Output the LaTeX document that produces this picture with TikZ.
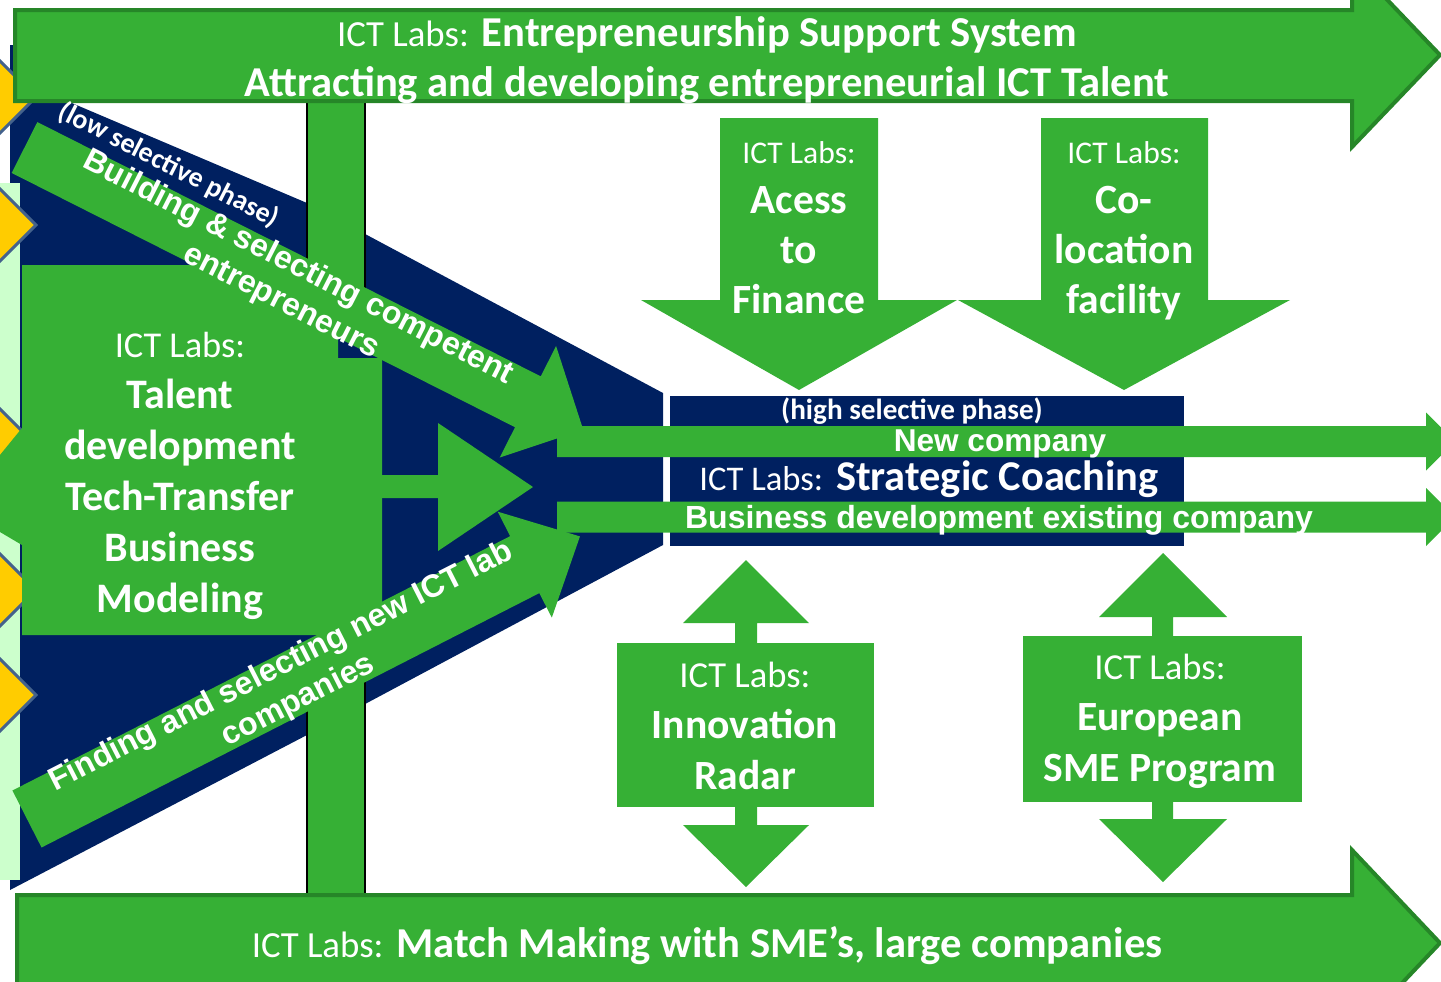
\documentclass[tikz,border=0pt]{standalone}
\usepackage{fontspec}
\setmainfont{Carlito}
\newfontfamily\arialfont{Liberation Sans}
\usepackage{tikz}
\definecolor{ictgreen}{RGB}{54,176,53}
\definecolor{ictdark}{RGB}{38,134,40}
\definecolor{ictnavy}{RGB}{0,32,96}
\definecolor{ictpale}{RGB}{204,255,204}
\definecolor{ictyellow}{RGB}{255,204,0}
\definecolor{ictslate}{RGB}{68,98,140}
\def\ictlabs#1{{\mdseries\fontsize{#1}{#1}\selectfont ICT Labs:}}
\def\hdfont{\bfseries\fontsize{21.3}{25}\selectfont}
\def\arbold#1{\arialfont\bfseries\fontsize{#1}{19}\selectfont}
\tikzset{
	fatarrow/.style={fill=ictgreen, draw=ictdark, line width=2pt},
	wtext/.style={text=white, align=center, inner sep=0pt},
}

\begin{document}
\begin{tikzpicture}[x=0.5pt, y=-0.5pt]
			%%%%% START %%%%%
			\useasboundingbox (0,0) rectangle (1441,981);
			\clip (0,0) rectangle (1441,981);
			
			\fill[ictnavy] (10,45) -- (15,45) -- (15,98) -- (60,98) -- (307,203) -- (663,393) -- (663,545) -- (307,735) -- (10,890) -- cycle;
			
			\fill[ictpale] (0,183) rectangle (20,880);
			\foreach \y in {97,225,445,590,695}
				\draw[fill=ictyellow, draw=ictslate, line width=1.5pt] (-6,\y-42) -- (36,\y) -- (-6,\y+42) -- (-48,\y) -- cycle;
			
			\foreach \ya/\yb in {100/335, 640/897} {
				\fill[ictgreen] (307,\ya) rectangle (365,\yb);
				\draw[line width=0.8pt] (307,\ya) -- (307,\yb) (365,\ya) -- (365,\yb);
			}
			
			\draw[fatarrow] (15,10) -- (1352,10) -- (1352,-37) -- (1440,55) -- (1352,147) -- (1352,101) -- (15,101) -- cycle;
			\draw[fatarrow] (17,895) -- (1352,895) -- (1352,850) -- (1440,943) -- (1352,1036) -- (1352,991) -- (17,991) -- cycle;
			
			\fill[ictgreen] (22,265) -- (338,265) -- (338,358) -- (382,358) -- (382,635) -- (22,635) -- (22,545) -- (0,532) -- (0,455) -- (22,428) -- cycle;
			\fill[ictgreen] (380,475) -- (438,475) -- (438,423) -- (533,487) -- (438,551) -- (438,498) -- (380,498) -- cycle;
			
			\fill[ictnavy] (670,396) rectangle (1184,546);
			\foreach \yc in {441.5,517}
				\fill[ictgreen] (557,\yc-15.5) -- (1426,\yc-15.5) -- (1426,\yc-29) -- (1455,\yc) -- (1426,\yc+29) -- (1426,\yc+15.5) -- (557,\yc+15.5) -- cycle;
			
			\begin{scope}[shift={(24.5,147.5)}, rotate=-26.8]
				\fill[ictgreen] (0,-28.5) -- (564,-28.5) -- (564,-62.5) -- (626,0) -- (564,62.5) -- (564,28.5) -- (0,28.5) -- cycle;
			\end{scope}
			\begin{scope}[shift={(27,819)}, rotate=27.07]
				\fill[ictgreen] (0,-32) -- (559,-32) -- (559,-59.5) -- (621,0) -- (559,59.5) -- (559,32) -- (0,32) -- cycle;
			\end{scope}
			
			\fill[ictgreen] (720,118) -- (878,118) -- (878,300) -- (957,300) -- (799,390) -- (641,300) -- (720,300) -- cycle;
			\fill[ictgreen] (1041,118) -- (1208,118) -- (1208,300) -- (1290,300) -- (1124,390) -- (958,300) -- (1041,300) -- cycle;
			
			\fill[ictgreen] (746,560) -- (809,623) -- (757,623) -- (757,825) -- (809,825) -- (746,887) -- (683,825) -- (735,825) -- (735,623) -- (683,623) -- cycle;
			\fill[ictgreen] (617,643) rectangle (874,807);
			\fill[ictgreen] (1163,553) -- (1227,617) -- (1173,617) -- (1173,819) -- (1227,819) -- (1163,882) -- (1099,819) -- (1152,819) -- (1152,617) -- (1099,617) -- cycle;
			\fill[ictgreen] (1023,636) rectangle (1302,802);
			
			\node[wtext, font=\hdfont] (esstext) at (707,60.5) {\ictlabs{18.4} Entrepreneurship Support System\\Attracting and developing entrepreneurial ICT Talent};
			\node[wtext, font=\hdfont] (matchtext) at (707,946) {\ictlabs{18.4} Match Making with SME’s, large companies};
			
			\node[wtext, font=\bfseries\fontsize{21}{25.5}\selectfont] (talenttext) at (180,475.5) {\ictlabs{18.2}\\Talent\\development\\Tech-Transfer\\Business\\Modeling};
			
			\node[wtext, font=\bfseries\fontsize{20.8}{25}\selectfont] (financetext) at (799,228) {\ictlabs{15.8}\\Acess\\to\\Finance};
			\node[wtext, font=\bfseries\fontsize{20.8}{25}\selectfont] (colocation) at (1124,230.5) {\ictlabs{15.8}\\Co-\\location\\facility};
			
			\node[wtext, font=\bfseries\fontsize{14.6}{17}\selectfont] (highphase) at (912,411) {(high selective phase)};
			\node[wtext, font=\arbold{15.8}] (newco) at (1000,444) {New company};
			\node[wtext, font=\bfseries\fontsize{21.2}{25}\selectfont] (coaching) at (929,479) {\ictlabs{17.3} Strategic Coaching};
			\node[wtext, font=\arbold{16}] (bizdev) at (999,520) {Business development existing company};
			
			\node[wtext, rotate=-27, font=\bfseries\fontsize{14}{17}\selectfont] (lowphase) at (169,165) {(low selective phase)};
			\node[wtext, rotate=-27, font=\arbold{16}] (buildtext) at (289.5,285) {Building \& selecting competent\\entrepreneurs};
			\node[wtext, rotate=27, font=\arbold{16}] (findtext) at (290,684) {Finding and selecting new ICT lab\\companies};
			
			\node[wtext, font=\bfseries\fontsize{20.8}{25.5}\selectfont] (radartext) at (745,726) {\ictlabs{18.3}\\Innovation\\Radar};
			\node[wtext, font=\bfseries\fontsize{20.8}{25.5}\selectfont] (smetext) at (1160,721) {\ictlabs{18.3}\\European\\SME Program};
			
			%%%%% END %%%%%
\end{tikzpicture}
\end{document}
